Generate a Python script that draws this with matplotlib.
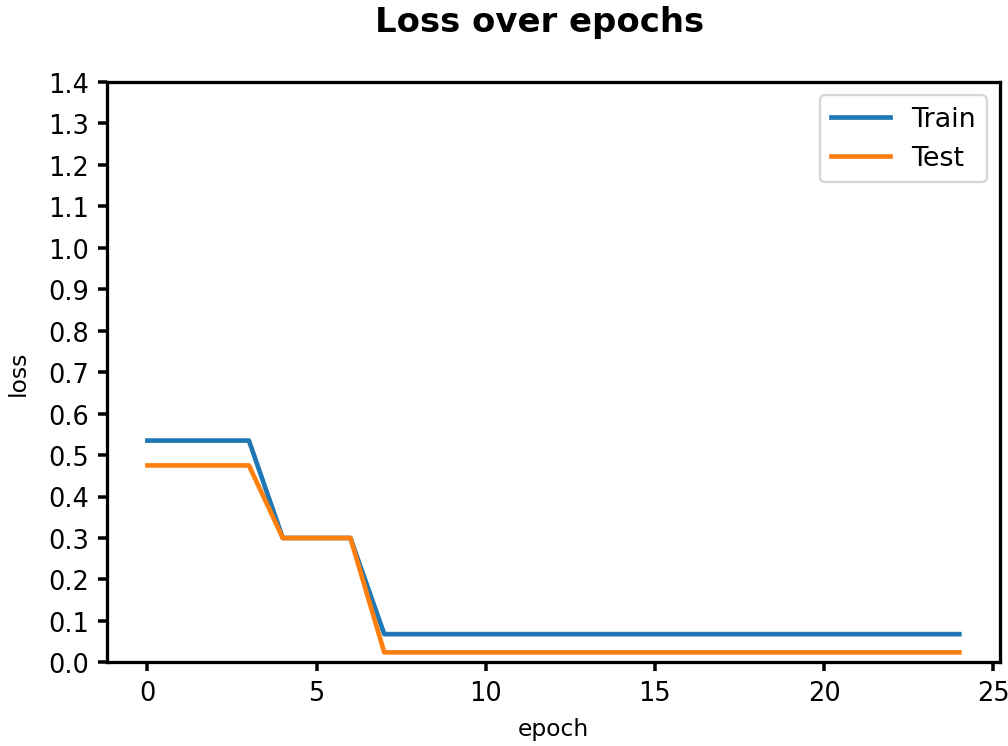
import matplotlib
matplotlib.use("Agg")
import matplotlib.pyplot as plt
import numpy as np

epochs = list(range(25))
train_loss = [0.535, 0.535, 0.535, 0.535, 0.30, 0.30, 0.30] + [0.068] * 18
test_loss = [0.475, 0.475, 0.475, 0.475, 0.30, 0.30, 0.30] + [0.024] * 18
yticks = np.arange(0, 1.41, 0.1)

fig = plt.figure(figsize=(6.0, 4.446), dpi=168)
ax = fig.add_axes([0.106, 0.112, 0.886, 0.777])
ax.plot(epochs, train_loss, label="Train", lw=2)
ax.plot(epochs, test_loss, label="Test", lw=2)
ax.set_ylim(0, 1.4)
ax.set_yticks(yticks)
ax.tick_params(labelsize=11, width=1.5, length=4)
for s in ax.spines.values():
    s.set_linewidth(1.4)
ax.set_title("Loss over epochs", pad=22, fontsize=14.5, fontweight="bold", x=0.485)
ax.set_xlabel("epoch", labelpad=5)
ax.set_ylabel("loss", labelpad=8)
ax.legend(loc="upper right", fontsize=11.5, handlelength=2.2)

fig.savefig("out.png", dpi=168)
